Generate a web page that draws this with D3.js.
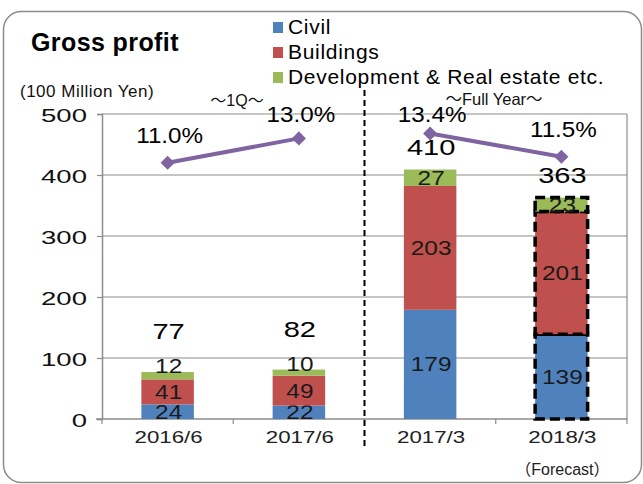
<!DOCTYPE html>
<html>
<head>
<meta charset="utf-8">
<script src="https://cdn.jsdelivr.net/npm/d3@7"></script>
<style>
  html, body { margin: 0; padding: 0; background: #fff; }
  svg text { font-family: "Liberation Sans", Arial, "Noto Sans CJK JP", sans-serif; }
  svg tspan.cjk { font-family: "Noto Sans CJK JP", sans-serif; }
</style>
</head>
<body>
<svg id="chart" width="643" height="484"></svg>
<script>
// data
const categories = ["2016/6", "2017/6", "2017/3", "2018/3"];
const periods = ["1Q", "1Q", "FY", "FY"];
const civil = [24, 22, 179, 139];
const buildings = [41, 49, 203, 201];
const development = [12, 10, 27, 23];
const totals = [77, 82, 410, 363];
const margins = [11.0, 13.0, 13.4, 11.5];
const forecast = [false, false, false, true];
const yTicks = [0, 100, 200, 300, 400, 500];
const seriesNames = ["Civil", "Buildings", "Development & Real estate etc."];
const seriesColors = ["#4F81BD", "#C0504D", "#9BBB59"];

const svg = d3.select("#chart");
const plot = { left: 102, right: 627, top: 114, bottom: 419 };
const grey = "#8c8c8c";

// the numbers in the original use a wide face, so stretch them sideways
function stretched(sel, fx, fy, sx) {
    return sel.attr("transform", (d, i) => `translate(${fx(d, i)},${fy(d, i)}) scale(${sx},1)`);
}

// outer frame
svg.append("rect")
    .attr("x", 3.5).attr("y", 11.5)
    .attr("width", 638).attr("height", 471)
    .attr("rx", 18).attr("ry", 18)
    .attr("fill", "none").attr("stroke", grey).attr("stroke-width", 1.5);

const x = d3.scaleBand()
    .domain(categories)
    .range([plot.left, plot.right])
    .paddingInner(0.6).paddingOuter(0.3);
const cx = c => x(c) + x.bandwidth() / 2;

const y = d3.scaleLinear().domain([0, 500]).range([plot.bottom, plot.top]);
// hidden secondary axis for the margin line
const y2 = d3.scaleLinear().domain([-10, 15]).range([plot.bottom, plot.top]);

// gridlines
svg.append("g")
    .selectAll("line")
    .data(yTicks.filter(d => d > 0))
    .join("line")
    .attr("x1", plot.left).attr("x2", plot.right)
    .attr("y1", d => y(d)).attr("y2", d => y(d))
    .attr("stroke", grey).attr("stroke-width", 1.2);

svg.append("line")
    .attr("x1", plot.right).attr("x2", plot.right)
    .attr("y1", plot.top).attr("y2", plot.bottom)
    .attr("stroke", grey).attr("stroke-width", 1.2);

// y axis
const yAxis = svg.append("g")
    .attr("transform", `translate(${plot.left},0)`)
    .call(d3.axisLeft(y).tickValues(yTicks).tickSize(5).tickPadding(11));
yAxis.select(".domain").attr("stroke", grey).attr("stroke-width", 1.5);
yAxis.selectAll(".tick line").attr("stroke", grey).attr("stroke-width", 1.2);
yAxis.selectAll(".tick text")
    .attr("x", null).attr("dy", null)
    .attr("transform", "translate(-15,7) scale(1.45,1)")
    .attr("font-size", 19).attr("fill", "#111")
    .style("font-family", "'Liberation Sans', Arial, sans-serif");

// x axis, ticks between categories
const xAxis = svg.append("g")
    .attr("transform", `translate(0,${plot.bottom})`);
xAxis.append("line")
    .attr("x1", plot.left - 6).attr("x2", plot.right)
    .attr("stroke", grey).attr("stroke-width", 1.5);
xAxis.selectAll("line.tk")
    .data(d3.range(categories.length + 1))
    .join("line").attr("class", "tk")
    .attr("x1", i => plot.left + i * x.step()).attr("x2", i => plot.left + i * x.step())
    .attr("y1", 0).attr("y2", 5)
    .attr("stroke", grey).attr("stroke-width", 1.2);
stretched(xAxis.selectAll("text")
    .data(categories)
    .join("text"), d => cx(d) + 1, () => 24, 1.35)
    .attr("text-anchor", "middle")
    .attr("font-size", 16.5).attr("fill", "#222")
    .text(d => d);

const fc = svg.append("text")
    .attr("x", cx("2018/3") + 1)
    .attr("y", 475)
    .attr("text-anchor", "middle")
    .attr("font-size", 16).attr("fill", "#222");
fc.append("tspan").attr("class", "cjk").text("（");
fc.append("tspan").text("Forecast");
fc.append("tspan").attr("class", "cjk").text("）");

// stacked bars
const rows = categories.map((c, i) => ({
    cat: c, Civil: civil[i], Buildings: buildings[i],
    "Development & Real estate etc.": development[i], forecast: forecast[i]
}));
const stack = d3.stack().keys(seriesNames)(rows);

const layers = svg.append("g").selectAll("g")
    .data(stack)
    .join("g")
    .attr("fill", (d, i) => seriesColors[i]);

layers.selectAll("rect")
    .data(d => d)
    .join("rect")
    .attr("x", d => x(d.data.cat))
    .attr("width", x.bandwidth())
    .attr("y", d => y(d[1]))
    .attr("height", d => y(d[0]) - y(d[1]))
    .attr("stroke", d => d.data.forecast ? "#000" : "none")
    .attr("stroke-width", d => d.data.forecast ? 3.5 : 0)
    .attr("stroke-dasharray", "10,5");

stretched(layers.selectAll("text")
    .data(d => d)
    .join("text"),
    d => cx(d.data.cat) + 1,
    d => {
        const h = y(d[0]) - y(d[1]);
        return h < 12 ? y(d[1]) + 1 : (y(d[0]) + y(d[1])) / 2 + 7;
    }, 1.25)
    .attr("text-anchor", "middle")
    .attr("font-size", 19.5).attr("fill", "#1a1a1a")
    .text(d => d[1] - d[0]);

// totals above the bars
const topOf = i => civil[i] + buildings[i] + development[i];
stretched(svg.append("g").selectAll("text")
    .data(categories)
    .join("text"),
    d => cx(d) + 1,
    (d, i) => y(topOf(i)) - 15 - (y(topOf(i) - development[i]) - y(topOf(i)) < 12 ? 18 : 0),
    1.32)
    .attr("text-anchor", "middle")
    .attr("font-size", 22).attr("fill", "#000")
    .text((d, i) => totals[i]);

// margin line, broken between 1Q and full year
const lineGen = d3.line()
    .x(d => cx(d.cat))
    .y(d => y2(d.m));
const pts = categories.map((c, i) => ({ cat: c, m: margins[i], period: periods[i] }));

svg.append("g").selectAll("path")
    .data(d3.groups(pts, d => d.period))
    .join("path")
    .attr("d", d => lineGen(d[1]))
    .attr("fill", "none")
    .attr("stroke", "#8064A2").attr("stroke-width", 4);

svg.append("g").selectAll("path")
    .data(pts)
    .join("path")
    .attr("transform", d => `translate(${cx(d.cat)},${y2(d.m)}) rotate(45)`)
    .attr("d", d3.symbol(d3.symbolSquare, 100))
    .attr("fill", "#8064A2");

stretched(svg.append("g").selectAll("text")
    .data(pts)
    .join("text"),
    d => cx(d.cat) + 2,
    d => Math.max(y2(d.m) - 20, 122),
    1.1)
    .attr("text-anchor", "middle")
    .attr("font-size", 22).attr("fill", "#000")
    .text(d => d.m.toFixed(1) + "%");

// divider between 1Q and full year
svg.append("line")
    .attr("x1", plot.left + 2 * x.step()).attr("x2", plot.left + 2 * x.step())
    .attr("y1", 90).attr("y2", 450)
    .attr("stroke", "#000").attr("stroke-width", 2)
    .attr("stroke-dasharray", "6,4");

// title, unit and period labels
svg.append("text")
    .attr("x", 31).attr("y", 51)
    .attr("font-size", 25).attr("font-weight", "bold").attr("letter-spacing", 0.4)
    .text("Gross profit");

svg.append("text")
    .attr("x", 20).attr("y", 97)
    .attr("font-size", 17).attr("letter-spacing", 0.5).attr("fill", "#111")
    .text("(100 Million Yen)");

svg.append("text")
    .attr("x", 237).attr("y", 106)
    .attr("text-anchor", "middle")
    .attr("font-size", 16).attr("fill", "#111")
    .text("～1Q～");

svg.append("text")
    .attr("x", 494).attr("y", 105)
    .attr("text-anchor", "middle")
    .attr("font-size", 16.5).attr("fill", "#111")
    .text("～Full Year～");

// legend
const legend = svg.append("g").selectAll("g")
    .data(seriesNames)
    .join("g")
    .attr("transform", (d, i) => `translate(273,${22 + i * 25})`);
legend.append("rect")
    .attr("width", 10).attr("height", 11)
    .attr("fill", (d, i) => seriesColors[i]);
legend.append("text")
    .attr("x", 15).attr("y", 12)
    .attr("font-size", 21).attr("letter-spacing", 0.7).attr("fill", "#000")
    .text(d => d);
</script>
</body>
</html>
